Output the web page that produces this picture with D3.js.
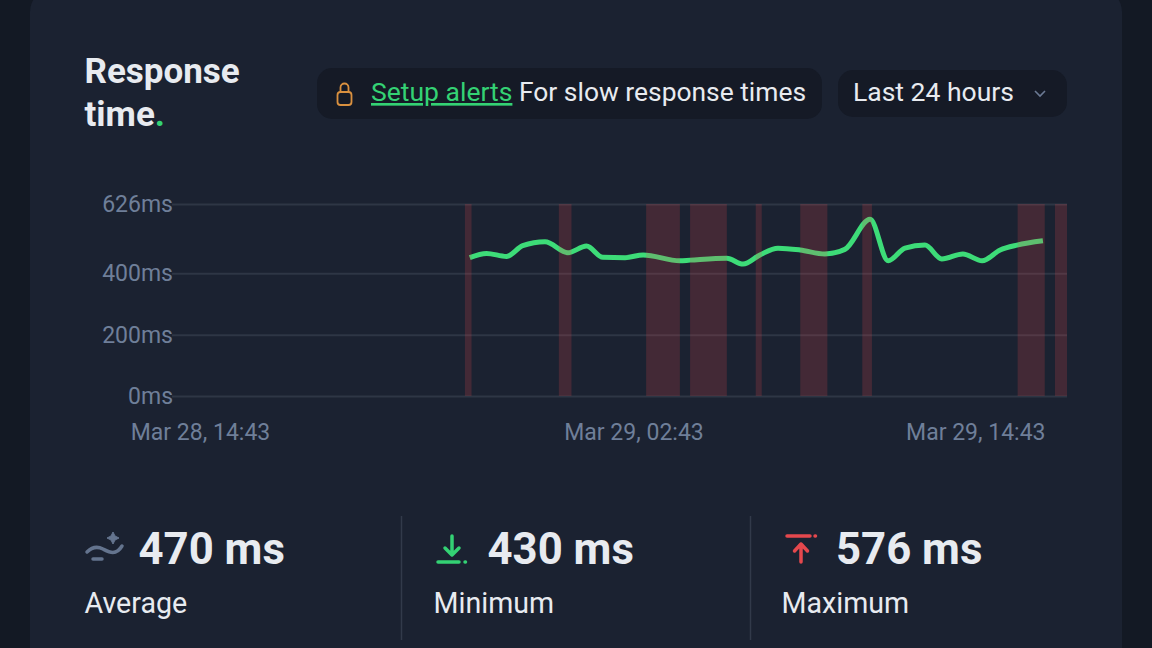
<!DOCTYPE html>
<html>
<head>
<meta charset="utf-8">
<script src="https://cdn.jsdelivr.net/npm/d3@7"></script>
<style>
  html, body { margin: 0; padding: 0; background: #131924; overflow: hidden; }
  text { font-family: Roboto, sans-serif; }
</style>
</head>
<body>
<div id="chart"></div>
<script>
// minutes since Mar 28, 14:43 and response time in ms
const minutes = [448, 476, 509, 536, 573, 611, 642, 669, 706, 736, 797, 814, 875, 902, 930, 960, 997, 1038, 1071, 1113, 1143, 1171, 1204, 1232, 1267, 1299, 1329, 1357, 1400];
const responseMs = [451, 465, 455, 490, 503, 467, 489, 452, 451, 460, 441, 443, 449, 430, 460, 482, 476, 463, 478, 576, 441, 482, 492, 447, 463, 441, 476, 492, 506];

// slow periods, start and end in minutes since Mar 28, 14:43
const slowStart = [440, 596, 741, 814, 923, 997, 1100, 1358, 1420];
const slowEnd = [451, 617, 797, 875, 933, 1042, 1116, 1403, 1440];

const yTicks = [0, 200, 400, 626];
const xTicks = [0, 720, 1440];
const xTickLabels = ["Mar 28, 14:43", "Mar 29, 02:43", "Mar 29, 14:43"];

const stats = ["470 ms", "430 ms", "576 ms"];
const statLabels = ["Average", "Minimum", "Maximum"];

const svg = d3.select("#chart")
    .append("svg")
    .attr("width", 1152)
    .attr("height", 648)
    .style("display", "block");

// card
svg.append("rect")
    .attr("x", 30).attr("y", -12)
    .attr("width", 1092).attr("height", 700)
    .attr("rx", 24)
    .attr("fill", "#1b2231");

// title
const title = svg.append("text")
    .attr("font-size", 35).attr("font-weight", 700).attr("fill", "#e8ebf0");
title.append("tspan").attr("x", 84.5).attr("y", 83).text("Response");
title.append("tspan").attr("x", 84.5).attr("y", 125.5).text("time");
title.append("tspan").attr("fill", "#34d274").text(".");

// alert pill
svg.append("rect")
    .attr("x", 317).attr("y", 68)
    .attr("width", 505).attr("height", 51)
    .attr("rx", 15)
    .attr("fill", "#151a26");
svg.append("rect")
    .attr("x", 337.5).attr("y", 92)
    .attr("width", 14).attr("height", 13)
    .attr("rx", 3)
    .attr("fill", "none").attr("stroke", "#d9903f").attr("stroke-width", 1.8);
svg.append("path")
    .attr("d", "M340.5 92v-4.5a4 4 0 0 1 8 0v4.5")
    .attr("fill", "none").attr("stroke", "#d9903f").attr("stroke-width", 1.8);
svg.append("text")
    .attr("x", 371).attr("y", 101)
    .attr("font-size", 26.5).attr("fill", "#34d274")
    .attr("text-decoration", "underline")
    .text("Setup alerts");
svg.append("text")
    .attr("x", 519).attr("y", 101)
    .attr("font-size", 26.4).attr("fill", "#e8ebf0")
    .text("For slow response times");

// period select
svg.append("rect")
    .attr("x", 838).attr("y", 70)
    .attr("width", 229).attr("height", 47)
    .attr("rx", 15)
    .attr("fill", "#151a26");
svg.append("text")
    .attr("x", 853).attr("y", 101)
    .attr("font-size", 26.5).attr("fill", "#e8ebf0")
    .text("Last 24 hours");
svg.append("path")
    .attr("d", "M1035 91l5 5 5-5")
    .attr("fill", "none").attr("stroke", "#6b7a94").attr("stroke-width", 1.6);

// scales
const x = d3.scaleLinear().domain([0, 1440]).range([200, 1067]);
const y = d3.scaleLinear().domain([0, 626]).range([396, 204]);

// y axis with grid lines
const yAxis = svg.append("g")
    .attr("transform", "translate(172,0)")
    .call(d3.axisRight(y).tickValues(yTicks).tickSize(895).tickFormat(d => d + "ms"));
yAxis.select(".domain").remove();
yAxis.selectAll("line").attr("stroke", "#2e3645").attr("stroke-width", 2);
yAxis.selectAll("text")
    .attr("x", 1).attr("dy", "0.32em")
    .attr("text-anchor", "end")
    .attr("font-size", 23)
    .attr("fill", "#6f7f99");

// x axis
const xAxis = svg.append("g")
    .attr("transform", "translate(0,396)")
    .call(d3.axisBottom(x).tickValues(xTicks).tickSize(0).tickFormat((d, i) => xTickLabels[i]));
xAxis.select(".domain").remove();
xAxis.selectAll("text")
    .attr("y", 36)
    .attr("dy", "0.35em")
    .attr("font-size", 23)
    .attr("fill", "#6f7f99");
// last label is kept inside the plot
xAxis.selectAll("text").filter((d, i) => i == 2)
    .attr("text-anchor", "end")
    .attr("x", -22);

// response line
const line = d3.line()
    .x((d, i) => x(minutes[i]))
    .y(d => y(d))
    .curve(d3.curveMonotoneX);

svg.append("path")
    .datum(responseMs)
    .attr("d", line)
    .attr("fill", "none")
    .attr("stroke", "#3ddc78")
    .attr("stroke-width", 5);

// slow periods go on top of the line
svg.append("g")
    .selectAll("rect")
    .data(slowStart)
    .join("rect")
    .attr("x", d => x(d))
    .attr("y", y(626))
    .attr("width", (d, i) => x(slowEnd[i]) - x(d))
    .attr("height", y(0) - y(626))
    .attr("fill", "#e5484d")
    .attr("fill-opacity", 0.2);

// stats row
const statX = [84.5, 433.5, 781.5];
const statValueX = [138.5, 487.5, 836];
const statValues = svg.append("g");
stats.forEach(function (s, i) {
    statValues.append("text")
        .attr("x", statValueX[i]).attr("y", 563.5)
        .attr("font-size", 43.7).attr("font-weight", 700).attr("fill", "#e8ebf0")
        .text(s);
    statValues.append("text")
        .attr("x", statX[i]).attr("y", 613)
        .attr("font-size", 28.6).attr("fill", "#e8ebf0")
        .text(statLabels[i]);
});

// dividers
[401.5, 750.5].forEach(function (d) {
    svg.append("line")
        .attr("x1", d).attr("x2", d)
        .attr("y1", 516).attr("y2", 640)
        .attr("stroke", "#323a4a").attr("stroke-width", 1.5);
});

// average icon
const avgIcon = svg.append("g")
    .attr("fill", "none").attr("stroke", "#64748e").attr("stroke-width", 3.5).attr("stroke-linecap", "round");
avgIcon.append("path").attr("d", "M87 552c5-5 10-6 16-3s13 7 19-3");
avgIcon.append("path").attr("d", "M93 559h9");
svg.append("path")
    .attr("d", "M113 532l2 4 4 2-4 2-2 4-2-4-4-2 4-2z")
    .attr("fill", "#64748e").attr("stroke", "#64748e");

// minimum icon
const minIcon = svg.append("g")
    .attr("fill", "none").attr("stroke", "#34d274").attr("stroke-width", 3.5).attr("stroke-linecap", "round");
minIcon.append("path").attr("d", "M452 536v19M445 548l7 7 7-7").attr("stroke-linejoin", "round");
minIcon.append("path").attr("d", "M438 562h21");
minIcon.append("path").attr("d", "M465 562h0.5");

// maximum icon
const maxIcon = svg.append("g")
    .attr("fill", "none").attr("stroke", "#e5484d").attr("stroke-width", 3.5).attr("stroke-linecap", "round");
maxIcon.append("path").attr("d", "M787 536h23");
maxIcon.append("path").attr("d", "M815 536h0.5");
maxIcon.append("path").attr("d", "M801 562v-18M794.5 551l6.5-7 6.5 7").attr("stroke-linejoin", "round");
</script>
</body>
</html>
